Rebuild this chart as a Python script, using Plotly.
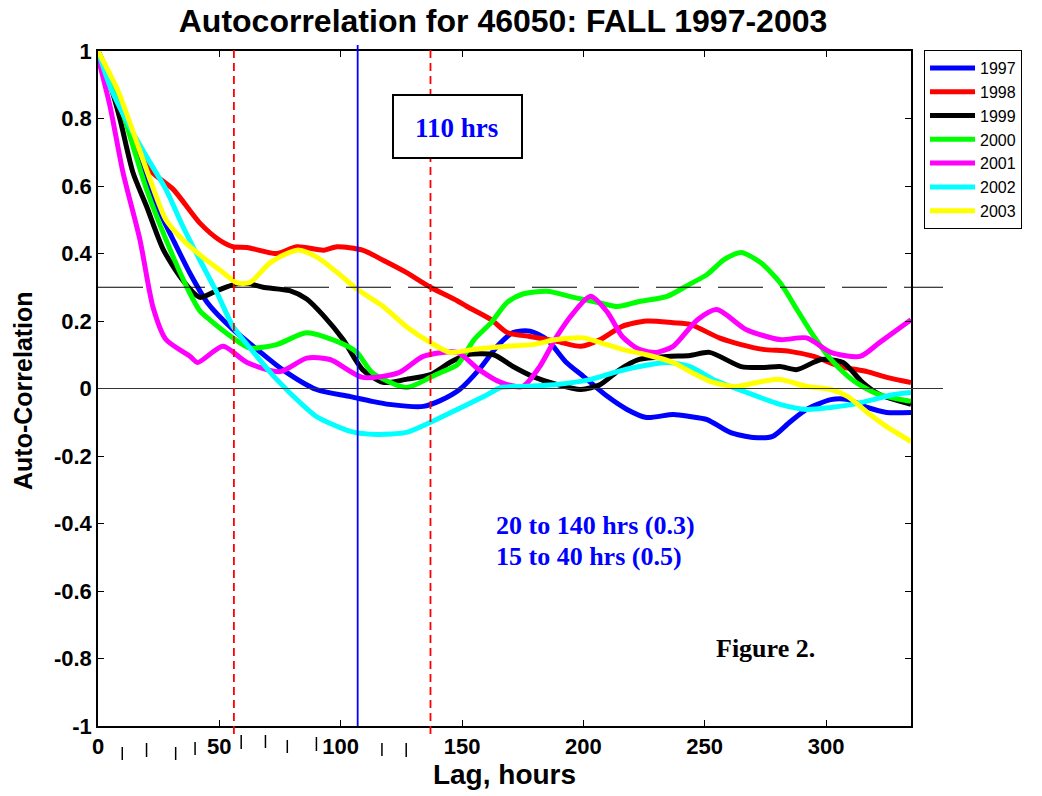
import plotly.graph_objects as go

# ---------------- data ----------------
lag_1997 = [0, 5, 10, 15, 20, 25, 31, 38, 45, 55.6, 65.5, 76, 90, 104, 113, 120, 134, 141, 149, 157,
            164.5, 171, 178, 185, 193, 200, 210, 218, 226, 237, 244, 251, 260.5, 270, 278, 285, 292,
            302, 309, 317, 325, 335]
acf_1997 = [1, 0.92, 0.82, 0.72, 0.61, 0.53, 0.44, 0.34, 0.255, 0.175, 0.116, 0.056, -0.003, -0.024,
            -0.038, -0.047, -0.053, -0.036, -0.003, 0.056, 0.125, 0.166, 0.17, 0.145, 0.077, 0.036,
            -0.024, -0.062, -0.086, -0.077, -0.083, -0.092, -0.13, -0.145, -0.142, -0.1, -0.062,
            -0.033, -0.033, -0.056, -0.071, -0.071]

lag_1998 = [0, 5, 10, 15, 20, 24, 31, 42, 50, 55.6, 61.4, 73.6, 82, 93, 98.5, 109, 117.5, 127, 137,
            148, 152, 162, 168.6, 178, 189, 199, 207, 216, 226, 237, 244, 256, 265, 274, 285, 295,
            306, 317, 325, 335]
acf_1998 = [1, 0.92, 0.83, 0.74, 0.66, 0.63, 0.59, 0.49, 0.44, 0.42, 0.418, 0.4, 0.42, 0.41, 0.42,
            0.41, 0.38, 0.344, 0.3, 0.26, 0.243, 0.204, 0.166, 0.154, 0.14, 0.125, 0.145, 0.184,
            0.2, 0.195, 0.19, 0.15, 0.13, 0.116, 0.11, 0.095, 0.065, 0.05, 0.033, 0.018]

lag_1999 = [0, 5, 9, 14.4, 20, 27, 35, 42, 49, 57, 62.6, 68, 79, 86, 93, 101, 109, 117.5, 127, 137,
            145, 152, 163, 171, 179, 189, 199, 207, 215, 223, 234.5, 244, 252, 265, 274, 281, 288,
            298, 307, 315, 322, 335]
acf_1999 = [1, 0.9, 0.8, 0.64, 0.54, 0.41, 0.32, 0.27, 0.29, 0.31, 0.31, 0.3, 0.29, 0.265, 0.215,
            0.145, 0.056, 0.018, 0.027, 0.041, 0.077, 0.1, 0.1, 0.065, 0.036, 0.012, -0.003, 0.012,
            0.056, 0.086, 0.095, 0.098, 0.107, 0.065, 0.062, 0.065, 0.056, 0.086, 0.077, 0.018,
            -0.018, -0.047]

lag_2000 = [0, 5, 10, 20, 31, 38, 42, 45, 55.6, 62.6, 73.6, 86, 99.7, 106.7, 113, 127, 137, 141,
            148, 155, 162, 168.6, 175, 185, 196, 206, 214, 223, 234.5, 244, 251, 258, 265, 273,
            281, 288, 295, 302, 309, 315, 322, 335]
acf_2000 = [1, 0.91, 0.82, 0.59, 0.39, 0.28, 0.23, 0.21, 0.15, 0.12, 0.13, 0.165, 0.136, 0.107,
            0.047, 0.003, 0.033, 0.047, 0.07, 0.145, 0.195, 0.255, 0.28, 0.288, 0.27, 0.255, 0.243,
            0.258, 0.273, 0.31, 0.338, 0.382, 0.403, 0.373, 0.314, 0.234, 0.154, 0.086, 0.036,
            0.006, -0.018, -0.038]

lag_2001 = [0, 5, 10.3, 17.3, 22.7, 28, 38, 41, 51.5, 61.4, 75, 86, 95.6, 109, 124, 134, 148, 157,
            166, 175, 182, 189, 196, 203, 210, 216, 223, 230, 237, 247, 255, 267, 281, 292, 302,
            314, 322, 335]
acf_2001 = [0.98, 0.835, 0.64, 0.44, 0.24, 0.145, 0.095, 0.077, 0.125, 0.077, 0.05, 0.09, 0.086,
            0.033, 0.047, 0.095, 0.107, 0.056, 0.018, 0.006, 0.065, 0.154, 0.225, 0.273, 0.225,
            0.154, 0.116, 0.107, 0.125, 0.204, 0.234, 0.175, 0.145, 0.15, 0.107, 0.095, 0.136,
            0.204]

lag_2002 = [0, 5, 13, 21.4, 28, 35, 42, 49, 55.6, 62.6, 73.6, 84.5, 90, 104, 115, 127, 137, 148,
            159, 166, 175, 189, 203, 214, 223, 234.5, 244, 253.5, 267.5, 281, 292, 302, 311, 319.5,
            328, 335]
acf_2002 = [1, 0.895, 0.776, 0.67, 0.59, 0.48, 0.38, 0.284, 0.184, 0.12, 0.027, -0.05, -0.083,
            -0.127, -0.136, -0.13, -0.1, -0.062, -0.024, 0.003, 0.006, 0.012, 0.027, 0.05, 0.065,
            0.077, 0.065, 0.027, -0.012, -0.047, -0.062, -0.056, -0.047, -0.033, -0.018, -0.012]

lag_2003 = [0, 8, 14.5, 21.4, 28, 35, 43, 51.5, 57, 62.6, 71, 82, 90, 98.5, 107, 117.5, 127, 137,
            145, 155, 168.6, 179, 189, 200, 207, 216, 226, 237, 244, 253.5, 263, 271.5, 281, 292,
            302, 309, 317, 325, 335]
acf_2003 = [1, 0.886, 0.76, 0.62, 0.5, 0.44, 0.39, 0.344, 0.314, 0.314, 0.373, 0.41, 0.39, 0.344,
            0.293, 0.243, 0.184, 0.136, 0.107, 0.116, 0.125, 0.13, 0.145, 0.15, 0.136, 0.116, 0.1,
            0.077, 0.05, 0.018, 0.006, 0.018, 0.027, 0.006, -0.003, -0.024, -0.071, -0.113, -0.157]

years = ["1997", "1998", "1999", "2000", "2001", "2002", "2003"]
lags = [lag_1997, lag_1998, lag_1999, lag_2000, lag_2001, lag_2002, lag_2003]
acfs = [acf_1997, acf_1998, acf_1999, acf_2000, acf_2001, acf_2002, acf_2003]
colors = ["#0000FF", "#FF0000", "#000000", "#00FF00", "#FF00FF", "#00FFFF", "#FFFF00"]

x_ticks = [0, 50, 100, 150, 200, 250, 300]
y_ticks = [-1, -0.8, -0.6, -0.4, -0.2, 0, 0.2, 0.4, 0.6, 0.8, 1]
y_tick_text = ["-1", "-0.8", "-0.6", "-0.4", "-0.2", "0", "0.2", "0.4", "0.6", "0.8", "1"]

threshold = 0.3
red_lines = [56, 137]
blue_line = 107
stray_ticks = [10, 20, 32, 40, 59, 69, 78, 90, 117, 127]

# ---------------- figure ----------------
# body margin is removed (post_script); plot area target is x 98..911, y 51..726 in page pixels
PL, PR, PT, PB = 98, 911, 51, 726
PW, PH = PR - PL, PB - PT


def px(xp):
    return (xp - PL) / PW


def py(yp):
    return (PB - yp) / PH


fig = go.Figure()
for yr, lg, ac, c in zip(years, lags, acfs, colors):
    fig.add_trace(go.Scatter(x=lg, y=ac, mode="lines", name=yr,
                             line=dict(color=c, width=5, shape="spline", smoothing=0.7)))

SANS = "Liberation Sans, Arial, sans-serif"
SERIF = "Liberation Serif, Times New Roman, serif"

shapes = []
shapes.append(dict(type="line", xref="paper", yref="y", x0=0, x1=px(943), y0=threshold, y1=threshold,
                   line=dict(color="black", width=1, dash="45px,17px")))
shapes.append(dict(type="line", xref="paper", yref="y", x0=0, x1=px(943), y0=0, y1=0,
                   line=dict(color="#333333", width=1)))
for xv in red_lines:
    shapes.append(dict(type="line", xref="x", yref="paper", x0=xv, x1=xv, y0=py(734), y1=py(45),
                       line=dict(color="#FF0000", width=1.8, dash="8px,5px")))
shapes.append(dict(type="line", xref="x", yref="paper", x0=blue_line, x1=blue_line, y0=0, y1=py(45),
                   line=dict(color="#0000FF", width=1.8)))
shapes.append(dict(type="rect", xref="paper", yref="paper",
                   x0=px(393), x1=px(522), y0=py(158), y1=py(95),
                   line=dict(color="black", width=2), fillcolor="white", layer="above"))
stray_y = [(747, 760), (743, 757), (747, 760), (742, 755), (735, 749), (735, 748),
           (740, 753), (737, 751), (743, 756), (743, 757)]
for xv, (ya, yb) in zip(stray_ticks, stray_y):
    shapes.append(dict(type="line", xref="x", yref="paper", x0=xv, x1=xv,
                       y0=py(yb), y1=py(ya), line=dict(color="black", width=1.5)))

annotations = [
    dict(text="110 hrs", xref="paper", yref="paper", x=px(456), y=py(128),
         xanchor="center", yanchor="middle", showarrow=False,
         font=dict(family=SERIF, size=27, color="#0000FF", weight="bold")),
    dict(text="20 to 140 hrs (0.3)", xref="paper", yref="paper", x=px(494), y=py(525),
         xanchor="left", yanchor="middle", showarrow=False,
         font=dict(family=SERIF, size=26, color="#0000FF", weight="bold")),
    dict(text="15 to 40 hrs (0.5)", xref="paper", yref="paper", x=px(494), y=py(556),
         xanchor="left", yanchor="middle", showarrow=False,
         font=dict(family=SERIF, size=26, color="#0000FF", weight="bold")),
    dict(text="Figure 2.", xref="paper", yref="paper", x=px(765), y=py(648),
         xanchor="center", yanchor="middle", showarrow=False,
         font=dict(family=SERIF, size=26, color="black", weight="bold")),
    dict(text="Auto-Correlation", xref="paper", yref="paper", x=px(23), y=py(391),
         xanchor="center", yanchor="middle", textangle=-90, showarrow=False,
         font=dict(family=SANS, size=25, color="black", weight="bold")),
]

fig.update_layout(
    width=1042, height=796,
    margin=dict(l=PL, r=1042 - PR, t=PT, b=796 - PB),
    paper_bgcolor="white", plot_bgcolor="white",
    font=dict(family=SANS, color="black"),
    title=dict(text="Autocorrelation for 46050: FALL 1997-2003", x=503 / 1042, xanchor="center",
               y=1 - 21 / 796, yanchor="middle",
               font=dict(family=SANS, size=32, color="black", weight="bold")),
    showlegend=True,
    legend=dict(x=px(924), y=py(50), xanchor="left", yanchor="top",
                bordercolor="black", borderwidth=1, bgcolor="white", itemwidth=45,
                font=dict(family=SANS, size=16, color="black"), tracegroupgap=0),
    shapes=shapes,
    annotations=annotations,
)
fig.update_xaxes(range=[0, 335], tickvals=x_ticks, ticktext=[str(v) for v in x_ticks],
                 showgrid=False, zeroline=False, showline=True, linecolor="black", linewidth=1.5,
                 mirror="ticks", ticks="inside", ticklen=6, tickcolor="black",
                 tickfont=dict(family=SANS, size=22, color="black", weight="bold"),
                 title=dict(text="Lag, hours", font=dict(family=SANS, size=28, color="black", weight="bold"),
                            standoff=2))
fig.update_yaxes(range=[-1, 1], tickvals=y_ticks, ticktext=y_tick_text,
                 showgrid=False, zeroline=False, showline=True, linecolor="black", linewidth=1.5,
                 mirror="ticks", ticks="inside", ticklen=6, tickcolor="black",
                 tickfont=dict(family=SANS, size=22, color="black", weight="bold"))

fig.write_html("out.html", config={"displayModeBar": False},
               post_script="document.body.style.margin='0';document.body.style.overflow='hidden';")
